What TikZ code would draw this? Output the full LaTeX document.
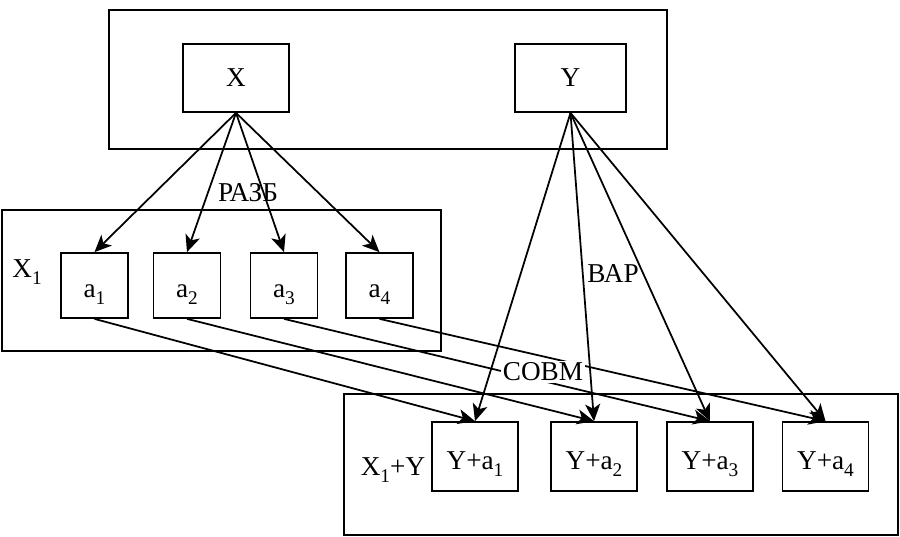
\documentclass[tikz,border=0pt]{standalone}
\usepackage{fontspec}
\setmainfont{Liberation Serif}
\usetikzlibrary{arrows.meta}
\newcommand{\lowidx}[1]{\raisebox{-0.55ex}{\fontsize{11}{12}\selectfont #1}}
\begin{document}
\begin{tikzpicture}[x=0.02cm,y=-0.02cm,
        font=\fontsize{15.5}{18}\selectfont,
        cadre/.style={draw, line width=1pt, inner sep=0pt},
        elem/.style={draw, line width=1pt, minimum width=1.34cm, minimum height=1.3cm, inner sep=0pt, text height=0.6cm, text depth=0.1cm},
        somme/.style={draw, line width=1pt, minimum width=1.72cm, minimum height=1.38cm, inner sep=0pt, text height=0.64cm, text depth=0.1cm},
        fleche/.style={-{Stealth[length=3.4mm, width=3mm, inset=0.9mm]}, line width=1pt}]
        \useasboundingbox (0,0) rectangle (900,537);

        % Cadres
        \node[cadre, minimum width=11.16cm, minimum height=2.78cm] (haut) at (388,79.5) {};
        \node[cadre, minimum width=8.78cm, minimum height=2.82cm] (milieu) at (221.5,280.5) {};
        \node[cadre, minimum width=11.08cm, minimum height=2.82cm] (bas) at (621,464.5) {};

        % Ensembles X et Y
        \node[cadre, minimum width=2.12cm, minimum height=1.36cm] (X) at (236,78) {X};
        \node[cadre, minimum width=2.22cm, minimum height=1.36cm] (Y) at (570.5,78) {Y};

        % Elements a_i et Y+a_i
        \foreach \i/\xa/\xs in {1/94.5/475, 2/187/594, 3/284/710, 4/379.5/825.5} {
            \node[elem] (a\i) at (\xa,285.5) {a\lowidx{\i}};
            \node[somme] (s\i) at (\xs,456.5) {Y+a\lowidx{\i}};
        }
        \node (X1) at (27,272) {X\lowidx{1}};
        \node (X1Y) at (393,470) {X\lowidx{1}+Y};

        % Fleches
        \foreach \i in {1,2,3,4} {
            \draw[fleche] (X.south) -- (a\i.north);
            \draw[fleche] (Y.south) -- (s\i.north);
            \draw[fleche] (a\i.south) -- (s\i.north);
        }

        % Operations
        \node (razb) at (248,193) {РАЗБ};
        \node (var) at (613,274) {ВАР};
        \node[fill=white, inner sep=1pt] (sovm) at (543,372) {СОВМ};
    \end{tikzpicture}
\end{document}
